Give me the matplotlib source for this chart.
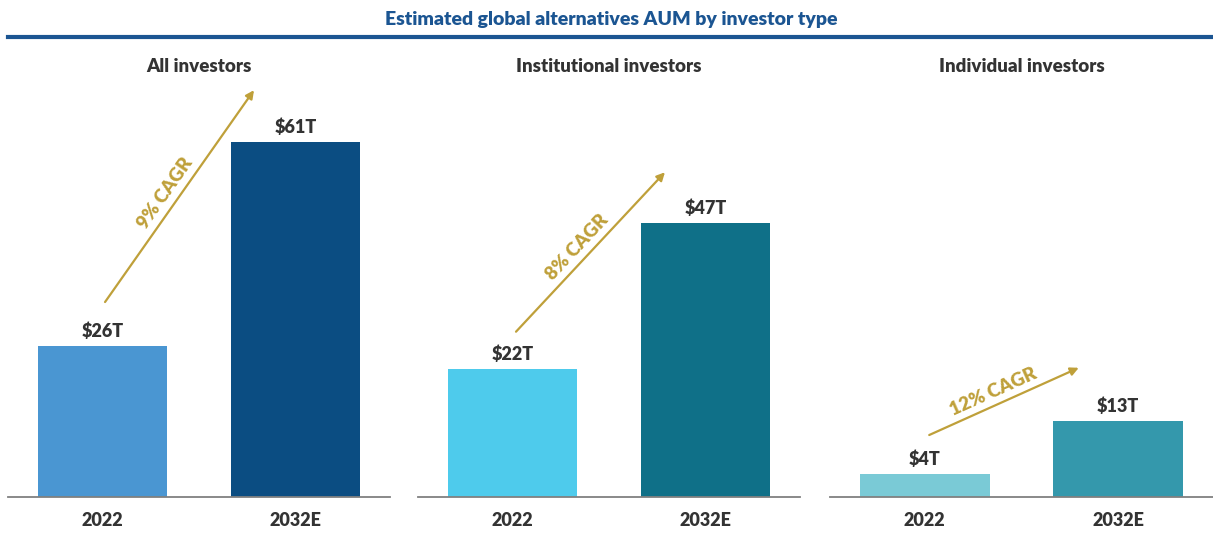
import matplotlib
matplotlib.use("Agg")
import matplotlib.pyplot as plt
import numpy as np

plt.rcParams['font.family'] = ['Lato', 'DejaVu Sans']

title = "Estimated global alternatives AUM by investor type"
panel_titles = ["All investors", "Institutional investors", "Individual investors"]
categories = ["2022", "2032E"]
values = [[26, 61], [22, 47], [4, 13]]
value_labels = [["$26T", "$61T"], ["$22T", "$47T"], ["$4T", "$13T"]]
cagr_labels = ["9% CAGR", "8% CAGR", "12% CAGR"]
colors = [["#4A96D2", "#0B4D82"], ["#4ECBEC", "#0F7088"], ["#7ACAD6", "#3498AC"]]
# arrow start/end in data coords (x, y)
arrows = [((0.013, 33.5), (0.785, 69.9)),
          ((0.018, 28.4), (0.79, 55.8)),
          ((0.023, 10.65), (0.796, 22.2))]

W, H = 1213, 533
fig = plt.figure(figsize=(W / 100, H / 100), dpi=100)

GOLD = "#BFA03A"
DARK = "#333333"
BLUE = "#1B5592"

fig.text(611 / W, 1 - 20 / H, title, ha='center', va='center', color=BLUE,
         fontsize=14, fontweight='heavy')
fig.add_artist(plt.Line2D([8 / W, 1.0], [1 - 37 / H, 1 - 37 / H], color=BLUE,
                          linewidth=3, transform=fig.transFigure))

lefts = [8, 418, 830]
widths = [382, 382, 383]
bottom_px = 497
ymax = 72
px_per_unit = 5.82
height_px = ymax * px_per_unit

axes = []
for i in range(3):
    ax = fig.add_axes([lefts[i] / W, (H - bottom_px) / H, widths[i] / W, height_px / H])
    axes.append(ax)
    x = np.arange(len(categories))
    bars = ax.bar(x, values[i], width=0.67, color=colors[i])
    ax.set_xlim(-0.49, 1.49)
    ax.set_ylim(0, ymax)
    for s in ['top', 'right', 'left']:
        ax.spines[s].set_visible(False)
    ax.spines['bottom'].set_color('#808080')
    ax.spines['bottom'].set_linewidth(1.3)
    ax.set_yticks([])
    ax.set_xticks(x)
    ax.set_xticklabels(categories, fontsize=13, fontweight='heavy', color=DARK)
    ax.tick_params(axis='x', length=0, pad=11)
    for b, lab in zip(bars, value_labels[i]):
        ax.annotate(lab, (b.get_x() + b.get_width() / 2, b.get_height()),
                    xytext=(0, 6), textcoords='offset pixels', ha='center', va='bottom',
                    fontsize=13, fontweight='heavy', color=DARK)
    ax.annotate(panel_titles[i], (0.5, 1.0), xycoords='axes fraction',
                xytext=(0, 11), textcoords='offset pixels', ha='center', va='center',
                fontsize=13.5, fontweight='heavy', color=DARK)
    (x0, y0), (x1, y1) = arrows[i]
    ax.annotate('', xy=(x1, y1), xytext=(x0, y0),
                arrowprops=dict(arrowstyle='-|>', color=GOLD, lw=1.6,
                                mutation_scale=12, shrinkA=0, shrinkB=0))
    p0 = ax.transData.transform((x0, y0))
    p1 = ax.transData.transform((x1, y1))
    d = p1 - p0
    ang = np.degrees(np.arctan2(d[1], d[0]))
    u = d / np.linalg.norm(d)
    n = np.array([-u[1], u[0]])
    off = n * 13 - u * 6
    ax.annotate(cagr_labels[i], xy=((x0 + x1) / 2, (y0 + y1) / 2),
                xytext=(off[0], off[1]), textcoords='offset pixels',
                ha='center', va='center', rotation=ang, rotation_mode='anchor',
                fontsize=13.5, fontweight='heavy', color=GOLD)

fig.savefig("out.png", dpi=100)
